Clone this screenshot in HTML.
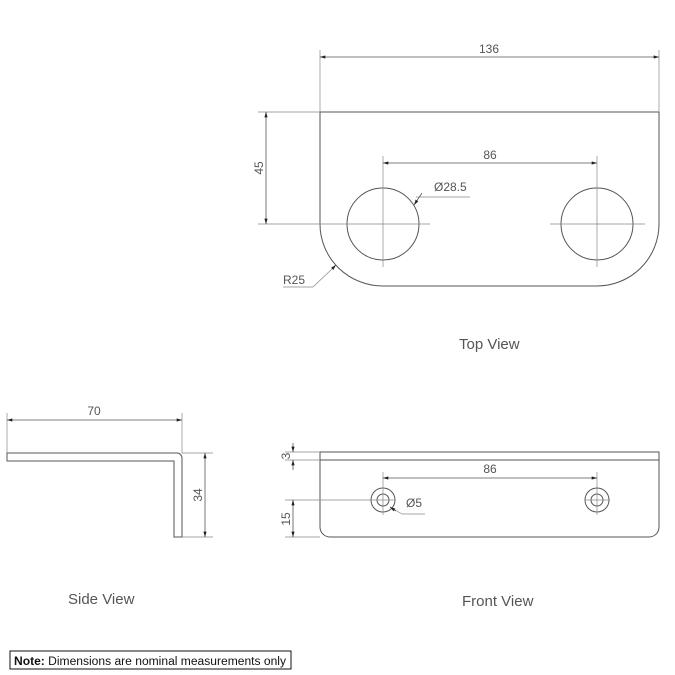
<!DOCTYPE html>
<html><head><style>
html,body{margin:0;padding:0;background:#fff;width:675px;height:675px;overflow:hidden}
svg{display:block}
text{font-family:"Liberation Sans",sans-serif;fill:#555}
</style></head><body>
<svg width="675" height="675" viewBox="0 0 675 675" xmlns="http://www.w3.org/2000/svg">
<defs>
<marker id="a" viewBox="0 0 10 6" refX="10" refY="3" markerWidth="8" markerHeight="4" orient="auto-start-reverse"><path d="M0,0 L10,3 L0,6z" fill="#222"/></marker>
</defs>
<g fill="none" stroke="#555" stroke-width="1">
<path d="M320,112 H659 V224 A62,62 0 0 1 597,286 H383 A63,62 0 0 1 320,224 Z"/>
<circle cx="383" cy="224" r="36"/>
<circle cx="597" cy="224" r="36"/>
<g stroke="#888" stroke-width="0.7">
<line x1="320" y1="50" x2="320" y2="112"/><line x1="659" y1="50" x2="659" y2="112"/>
<line x1="258" y1="112" x2="320" y2="112"/><line x1="258" y1="224" x2="430" y2="224"/>
<line x1="550" y1="224" x2="645" y2="224"/>
<line x1="383" y1="156" x2="383" y2="267"/><line x1="597" y1="156" x2="597" y2="267"/>
<line x1="416" y1="197" x2="470" y2="197"/>
<line x1="283" y1="287" x2="313" y2="287"/><line x1="313" y1="287" x2="333" y2="268"/>
</g>
<line x1="320" y1="57" x2="659" y2="57" marker-start="url(#a)" marker-end="url(#a)" stroke-width="0.8"/>
<line x1="266" y1="112" x2="266" y2="224" marker-start="url(#a)" marker-end="url(#a)" stroke-width="0.8"/>
<line x1="383" y1="163" x2="597" y2="163" marker-start="url(#a)" marker-end="url(#a)" stroke-width="0.8"/>
<line x1="422" y1="193" x2="414" y2="205" marker-end="url(#a)" stroke-width="0.8"/>
<line x1="333" y1="268" x2="336" y2="265" marker-end="url(#a)" stroke-width="0.8"/>
<path d="M320,452 H659 V527 A10,10 0 0 1 649,537 H330 A10,10 0 0 1 320,527 Z"/>
<line x1="320" y1="460" x2="659" y2="460"/>
<circle cx="383" cy="500" r="12"/><circle cx="383" cy="500" r="6"/>
<circle cx="597" cy="500" r="12"/><circle cx="597" cy="500" r="6"/>
<g stroke="#888" stroke-width="0.7">
<line x1="285" y1="452" x2="320" y2="452"/><line x1="285" y1="460" x2="320" y2="460"/>
<line x1="285" y1="500" x2="395" y2="500"/><line x1="585" y1="500" x2="610" y2="500"/>
<line x1="383" y1="472" x2="383" y2="515"/><line x1="597" y1="472" x2="597" y2="515"/>
<line x1="285" y1="537" x2="320" y2="537"/>
<line x1="390" y1="507" x2="402" y2="514"/><line x1="402" y1="514" x2="425" y2="514"/>
</g>
<line x1="383" y1="478" x2="597" y2="478" marker-start="url(#a)" marker-end="url(#a)" stroke-width="0.8"/>
<line x1="293" y1="443" x2="293" y2="452" marker-end="url(#a)" stroke-width="0.8"/>
<line x1="293" y1="470" x2="293" y2="460" marker-end="url(#a)" stroke-width="0.8"/>
<line x1="293" y1="500" x2="293" y2="537" marker-start="url(#a)" marker-end="url(#a)" stroke-width="0.8"/>
<line x1="396" y1="511" x2="390" y2="507" marker-end="url(#a)" stroke-width="0.8"/>
<path d="M7,453 H177 A5,5 0 0 1 182,458 V537 H174 V461 H7 Z"/>
<g stroke="#888" stroke-width="0.7">
<line x1="7" y1="413" x2="7" y2="453"/><line x1="182" y1="413" x2="182" y2="453"/>
<line x1="182" y1="453" x2="213" y2="453"/><line x1="182" y1="537" x2="213" y2="537"/>
</g>
<line x1="7" y1="420" x2="182" y2="420" marker-start="url(#a)" marker-end="url(#a)" stroke-width="0.8"/>
<line x1="205" y1="453" x2="205" y2="537" marker-start="url(#a)" marker-end="url(#a)" stroke-width="0.8"/>
</g>
<g font-size="12">
<text x="489" y="53" text-anchor="middle">136</text>
<text x="490" y="159" text-anchor="middle">86</text>
<text x="434" y="191">Ø28.5</text>
<text x="283" y="284">R25</text>
<text transform="translate(263,168) rotate(-90)" text-anchor="middle">45</text>
<text x="490" y="473" text-anchor="middle">86</text>
<text x="406" y="507">Ø5</text>
<text transform="translate(290,456) rotate(-90)" text-anchor="middle">3</text>
<text transform="translate(290,519) rotate(-90)" text-anchor="middle">15</text>
<text x="94" y="415" text-anchor="middle">70</text>
<text transform="translate(202,495) rotate(-90)" text-anchor="middle">34</text>
</g>
<g font-size="15">
<text x="459" y="349">Top View</text>
<text x="68" y="604">Side View</text>
<text x="462" y="606">Front View</text>
</g>
<rect x="10" y="651" width="281" height="18" fill="none" stroke="#111" stroke-width="1"/>
<text x="14" y="665" font-size="11.5" textLength="272" lengthAdjust="spacingAndGlyphs" style="fill:#111"><tspan font-weight="bold">Note:</tspan> Dimensions are nominal measurements only</text>
</svg>
</body></html>
